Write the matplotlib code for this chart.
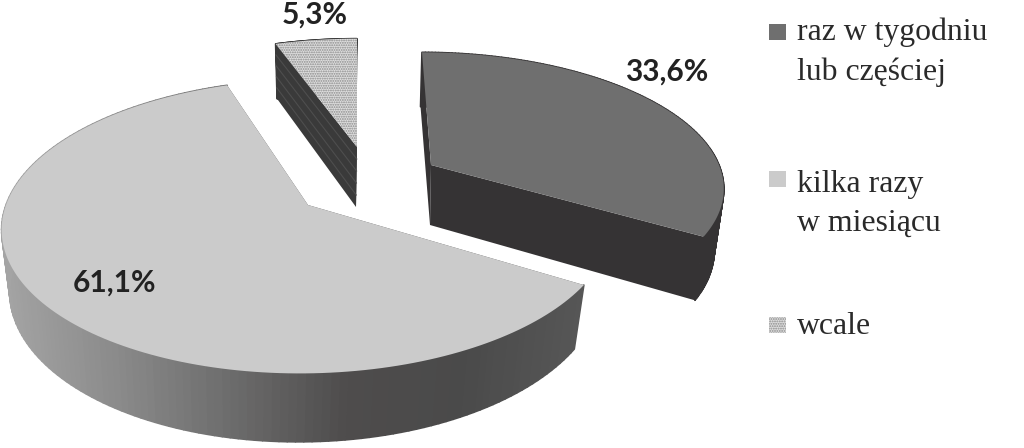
import numpy as np
import matplotlib
matplotlib.use('Agg')
import matplotlib.pyplot as plt
from matplotlib.patches import Polygon, Rectangle
from matplotlib.collections import PolyCollection
from matplotlib.colors import LinearSegmentedColormap

# dane
shares = [33.6, 61.1, 5.3]
share_labels = ['33,6%', '61,1%', '5,3%']
legend_labels = ['raz w tygodniu\nlub częściej', 'kilka razy\nw miesiącu', 'wcale']

# uklad wycinkow (w pikselach)
centers = [(431, 165), (308, 205), (357, 147)]
radii_x = [288, 302, 283]
radii_y = [129, 144, 124]
skews = [0.08, -0.05, 0.0]
k = 0.145
wall_h = 60
bottom_sx = 0.97
bottom_sy = 1.05

top_colors = ['#6f6f6f', '#cbcbcb', '#dedede']
wall_maps = [
    LinearSegmentedColormap.from_list('w0', ['#353334', '#353334']),
    LinearSegmentedColormap.from_list('w1', ['#a4a4a4', '#8a8a8a', '#6c6c6c', '#4e4c4c', '#4a4a4a', '#565656']),
    LinearSegmentedColormap.from_list('w2', ['#3a3a3a', '#3a3a3a']),
]


def project(theta, i, bottom=False):
    cx, cy = centers[i]
    rx, ry = radii_x[i], radii_y[i]
    if bottom:
        rx, ry = rx * bottom_sx, ry * bottom_sy
        cy = cy + wall_h
        cx = cx - 1
    u, v = np.sin(theta), np.cos(theta)
    w = 1 + k * v
    dy = -ry * v / w
    return cx + rx * u / w + skews[i] * dy, cy + dy


fig = plt.figure(figsize=(10.24, 4.48), dpi=100)
ax = fig.add_axes([0, 0, 1, 1])
ax.set_xlim(0, 1024)
ax.set_ylim(448, 0)
ax.axis('off')

plt.rcParams['hatch.linewidth'] = 0.9

edges = np.cumsum([0] + shares) / sum(shares) * 2 * np.pi
for i in range(len(shares)):
    th = np.linspace(edges[i], edges[i + 1], 160)
    tx, ty = project(th, i)
    bx, by = project(th, i, bottom=True)
    ax0 = centers[i]
    ab = (centers[i][0] - 1, centers[i][1] + wall_h)

    # sciany boczne: radialne
    for ex, ey, fx, fy in [(tx[0], ty[0], bx[0], by[0]), (tx[-1], ty[-1], bx[-1], by[-1])]:
        ax.add_patch(Polygon([ax0, (ex, ey), (fx, fy), ab], closed=True,
                             facecolor=wall_maps[i](0.0 if i != 1 else 1.0), edgecolor='none', zorder=2))

    # sciana zewnetrzna jako paski z gradientem
    strips = [[(tx[j], ty[j]), (tx[j + 1], ty[j + 1]), (bx[j + 1], by[j + 1]), (bx[j], by[j])]
              for j in range(len(th) - 1)]
    pos = (tx[:-1] - tx.min()) / max(tx.max() - tx.min(), 1)
    ax.add_collection(PolyCollection(strips, facecolors=wall_maps[i](pos), edgecolors=wall_maps[i](pos),
                                     linewidths=1.2, zorder=3))

    # wierzch wycinka
    pts = [ax0] + list(zip(tx, ty))
    if i == 2:
        ax.add_patch(Polygon(pts, closed=True, facecolor=top_colors[i], edgecolor='#8a8a8a',
                             hatch='.......', linewidth=0, zorder=4))
        # prazki na sciance
        for f in [0.2, 0.4, 0.6, 0.8]:
            ax.plot([tx[0] + (bx[0] - tx[0]) * f, ax0[0] + (ab[0] - ax0[0]) * f],
                    [ty[0] + (by[0] - ty[0]) * f, ax0[1] + (ab[1] - ax0[1]) * f],
                    color='#4e4e4e', lw=0.8, zorder=3.5)
    else:
        ax.add_patch(Polygon(pts, closed=True, facecolor=top_colors[i], edgecolor='none', zorder=4))

# etykiety procentowe
label_pos = [(667, 72), (115, 283), (315, 15)]
for txt, (x, y) in zip(share_labels, label_pos):
    ax.text(x, y, txt, family='Lato', fontweight='bold', fontsize=21.5, color='#222222',
            ha='center', va='center', zorder=6)

# legenda
legend_y = [24, 171, 317]
legend_text_y = [52, 204, 326]
for i, lab in enumerate(legend_labels):
    if i == 2:
        ax.add_patch(Rectangle((769, legend_y[i]), 17, 16, facecolor=top_colors[i], edgecolor='#8a8a8a',
                               hatch='.......', linewidth=0))
    else:
        ax.add_patch(Rectangle((769, legend_y[i]), 17, 16, facecolor=top_colors[i], edgecolor='none'))
    ax.text(797, legend_text_y[i], lab, family='Liberation Serif', fontsize=22.9, color='#2a2a2a',
            ha='left', va='center', linespacing=1.46)

fig.savefig('out.png', dpi=100)
